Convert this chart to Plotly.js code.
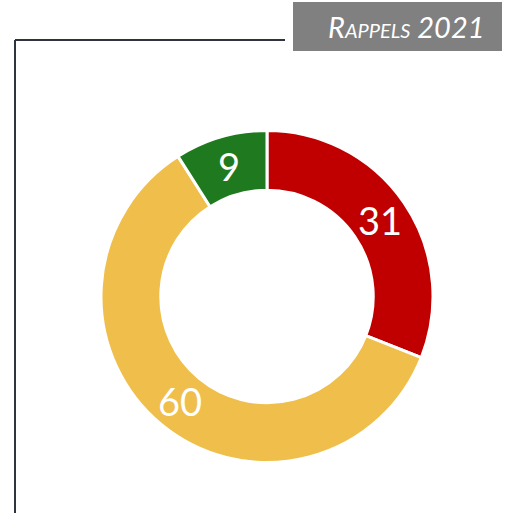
<!DOCTYPE html>
<html>
<head>
<meta charset="utf-8">
<script src="https://cdn.plot.ly/plotly-3.0.1.min.js"></script>
<style>html,body{margin:0;padding:0;background:#fff;}#chart{width:505px;height:513px;}</style>
</head>
<body>
<div id="chart"></div>
<script>
const categories = ["Rouge", "Jaune", "Vert"];
const values = [31, 60, 9];
const colors = ["#c00000", "#f0be4a", "#1f7a1f"];
const titleText = "Rappels 2021";

(function () {
const W = 505, H = 513;
const pL = 101, pR = 433, pT = 130, pB = 463;
const holeFrac = 0.64;

const trace = {
  type: "pie",
  labels: categories,
  values: values,
  sort: false,
  direction: "clockwise",
  rotation: 0,
  hole: holeFrac,
  marker: { colors: colors, line: { color: "#ffffff", width: 3 } },
  textinfo: "none",
  domain: { x: [pL / W, pR / W], y: [1 - pB / H, 1 - pT / H] },
  showlegend: false,
  hoverinfo: "none"
};

// value labels at each slice's angular/radial middle
const total = values.reduce((a, b) => a + b, 0);
const cx = (pL + pR) / 2, cy = (pT + pB) / 2;
const R = Math.min(pR - pL, pB - pT) / 2;
const rMid = R * (1 + holeFrac) / 2;
let cum = 0;
const labelAnns = values.map((v) => {
  const mid = (cum + v / 2) / total * 2 * Math.PI;
  cum += v;
  const px = cx + rMid * Math.sin(mid);
  const py = cy - rMid * Math.cos(mid);
  return {
    xref: "paper", yref: "paper", x: px / W, y: 1 - py / H,
    xanchor: "center", yanchor: "middle", showarrow: false,
    text: String(v),
    font: { family: "Lato, 'Open Sans', sans-serif", size: 38, color: "#ffffff" }
  };
});

const layout = {
  width: W, height: H,
  margin: { l: 0, r: 0, t: 0, b: 0 },
  paper_bgcolor: "#ffffff",
  plot_bgcolor: "#ffffff",
  showlegend: false,
  shapes: [
    { type: "line", xref: "paper", yref: "paper", x0: 15 / W, x1: 285 / W, y0: 1 - 40 / H, y1: 1 - 40 / H, line: { color: "#2e3440", width: 2 } },
    { type: "line", xref: "paper", yref: "paper", x0: 15 / W, x1: 15 / W, y0: 1 - 40 / H, y1: 0, line: { color: "#2e3440", width: 2 } },
    { type: "rect", xref: "paper", yref: "paper", x0: 293 / W, x1: 502 / W, y0: 1 - 51 / H, y1: 1 - 2 / H, fillcolor: "#808080", line: { width: 0 } }
  ],
  annotations: [
    { xref: "paper", yref: "paper", x: 406 / W, y: 1 - 27 / H, xanchor: "center", yanchor: "middle", showarrow: false,
      text: titleText,
      font: { family: "Lato, 'Open Sans', sans-serif", size: 29, color: "#ffffff", style: "italic", variant: "small-caps" } }
  ].concat(labelAnns)
};

Plotly.newPlot("chart", [trace], layout, { displayModeBar: false, staticPlot: true });
})();
</script>
</body>
</html>
